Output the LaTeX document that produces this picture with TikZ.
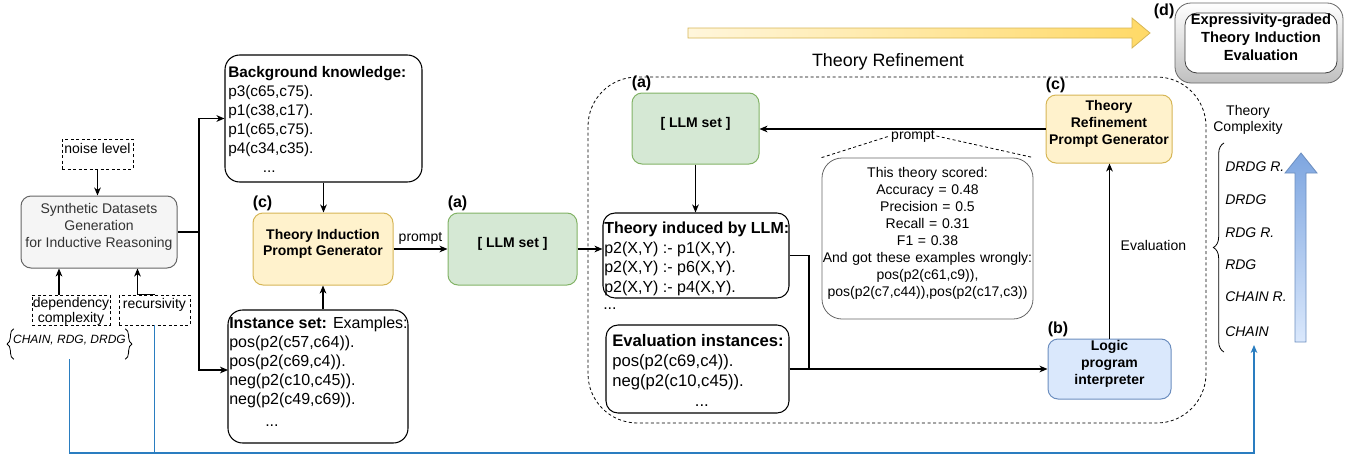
\documentclass[tikz,border=0pt]{standalone}
\usepackage{fontspec}
\setmainfont{Liberation Sans}
\usetikzlibrary{arrows.meta,fit,decorations.pathreplacing,calc,shadings}
\definecolor{yfill}{HTML}{FFF2CC}
\definecolor{ydraw}{HTML}{D6B656}
\definecolor{gfill}{HTML}{D5E8D4}
\definecolor{gdraw}{HTML}{82B366}
\definecolor{bfill}{HTML}{DAE8FC}
\definecolor{bdraw}{HTML}{6C8EBF}
\definecolor{sfill}{HTML}{F5F5F5}
\definecolor{sdraw}{HTML}{666666}
\definecolor{stext}{HTML}{333333}
\definecolor{blu}{HTML}{2A7DC0}
\definecolor{arrL}{HTML}{FFF6DC}
\definecolor{arrR}{HTML}{FFD966}
\definecolor{barT}{HTML}{7EA6E0}
\definecolor{barB}{HTML}{DAE8FC}
\newcommand\fsA{\fontsize{10.5pt}{12.5pt}\selectfont}
\newcommand\fsB{\bfseries\fontsize{10.5pt}{12.5pt}\selectfont}
\newcommand\fsBK{\fontsize{11.5pt}{14.25pt}\selectfont}
\newcommand\fsIS{\fontsize{12pt}{14.25pt}\selectfont}
\newcommand\fsTI{\fontsize{12pt}{14.6pt}\selectfont}
\newcommand\fsEV{\fontsize{12.5pt}{15pt}\selectfont}
\newcommand\fsSm{\fontsize{9pt}{11pt}\selectfont}
\newcommand\fsTR{\fontsize{13.4pt}{16pt}\selectfont}
\newcommand\fsEX{\bfseries\fontsize{11pt}{13.5pt}\selectfont}
\newcommand\fsLB{\bfseries\fontsize{12pt}{14pt}\selectfont}
\newcommand\fsSC{\fontsize{10.5pt}{12.75pt}\selectfont}
\begin{document}
\begin{tikzpicture}[x=0.75pt,y=-0.75pt,
  bx/.style={draw=black, line width=0.8pt, rounded corners=11pt, inner sep=0pt},
  yb/.style={draw=ydraw, fill=yfill, line width=0.75pt, rounded corners=7.5pt, inner sep=0pt, align=center, font=\fsB},
  gb/.style={draw=gdraw, fill=gfill, line width=0.75pt, rounded corners=7.5pt, inner sep=0pt, align=center, font=\fsB},
  bb/.style={draw=bdraw, fill=bfill, line width=0.75pt, rounded corners=7.5pt, inner sep=0pt, align=center, font=\fsB},
  dbox/.style={draw=black, dash pattern=on 2.25pt off 1.9pt, line width=0.6pt, inner sep=0pt, align=center, font=\fsA},
  arr/.style={-{Stealth[length=6pt,width=5pt,inset=1.8pt]}, line width=0.8pt},
  ln/.style={line width=0.8pt},
  lbl/.style={font=\fsLB, inner sep=0pt},
  txt/.style={inner sep=0pt, align=left, anchor=north west},
  brc/.style={decorate, line width=0.6pt},
  bl/.style={draw=blu, line width=0.8pt},
  ital/.style={font=\itshape\fsA, anchor=west, inner sep=0pt}
]
\useasboundingbox (0,0) rectangle (1354,457);

% dashed loop region
\node[fit={(588,77)(1206,423)}, inner sep=0pt, draw=black, dash pattern=on 2.25pt off 1.9pt, line width=0.6pt, rounded corners=37pt] (loop) {};

% top gradient arrow
\shadedraw[left color=arrL, right color=arrR, draw=ydraw, line width=0.6pt]
  (688,28) -- (1132,28) -- (1132,18) -- (1150,33) -- (1132,48) -- (1132,38) -- (688,38) -- cycle;
\node[font=\fsTR, inner sep=0pt] (trlab) at (888,62) {Theory Refinement};

% left part
\node[dbox, fit={(62,139)(133,169)}] (noise) {noise level};
\node[draw=sdraw, fill=sfill, text=stext, line width=0.75pt, rounded corners=7.5pt, inner sep=0pt, align=center, font=\fsA, fit={(21,196)(177,268)}] (synth) {Synthetic Datasets\\Generation\\for Inductive Reasoning};
\node[dbox, fit={(32,295)(110,325)}] (dep) {};
\node[font=\fsA, align=center, inner sep=0pt, text depth=0pt] (deptext) at (dep.center) {dependency\\[-1pt]complexity};
\node[dbox, fit={(119,295)(190,325)}] (rec) {recursivity};
\node[fit={(6,329)(133,359)}, inner sep=0pt, font=\itshape\fsSm] (grp) {CHAIN, RDG, DRDG};
\draw[brc, decoration={brace, amplitude=5pt}] ([xshift=6pt]grp.south west) -- ([xshift=6pt]grp.north west);
\draw[brc, decoration={brace, amplitude=5pt}] ([xshift=-6pt]grp.north east) -- ([xshift=-6pt]grp.south east);

\draw[arr] (noise.south) -- (noise.south |- synth.north);
\draw[arr] ([xshift=-9pt]dep.north) -- ([xshift=-9pt]dep.north |- synth.south);
\draw[arr] (rec.north) -- ++(-17,0) coordinate (rk) -- (rk |- synth.south);

% background knowledge and instance set
\node[bx, fit={(225,55)(422,182)}] (bk) {};
\node[txt, font=\fsBK] (bktext) at (228,66) {\textbf{Background knowledge:}\\p3(c65,c75).\\p1(c38,c17).\\p1(c65,c75).\\p4(c34,c35).\\\hspace*{26pt}...};
\node[bx, fit={(228,310)(408,443)}] (inst) {};
\node[txt, font=\fsIS] (insttext) at (229,317) {\textbf{Instance set:} Examples:\\pos(p2(c57,c64)).\\pos(p2(c69,c4)).\\neg(p2(c10,c45)).\\neg(p2(c49,c69)).\\[2pt]\hspace*{27pt}...};

\coordinate (sp) at (199,232);
\coordinate (instin) at (228,370);
\draw[ln] (synth.east) -- (sp);
\draw[arr] (sp) |- (bk.west);
\draw[arr] (sp) |- (instin);

% theory induction prompt generator and LLM
\node[yb, fit={(253,213)(393,285)}] (tipg) {Theory Induction\\Prompt Generator};
\node[lbl, anchor=south west] (lc1) at ([yshift=1pt]tipg.north west) {(c)};
\node[gb, fit={(448,213)(577,285)}] (llm1) {[ LLM set ]};
\node[lbl, anchor=south west] (la1) at ([yshift=1pt]llm1.north west) {(a)};
\draw[arr] (bk.south) -- (bk.south |- tipg.north);
\draw[arr] (tipg.south |- inst.north) -- (tipg.south);
\draw[arr] (tipg.east) -- node[above, font=\fsA, inner sep=3pt] (p1) {prompt} (llm1.west);

% theory induced, evaluation instances
\node[bx, rounded corners=9pt, fit={(603,213)(789,298)}] (ti) {};
\node[txt, font=\fsTI] (titext) at (604,222) {\textbf{Theory induced by LLM:}\\p2(X,Y) :- p1(X,Y).\\p2(X,Y) :- p6(X,Y).\\p2(X,Y) :- p4(X,Y).};
\node[font=\fsTI, anchor=base west, inner sep=0pt] (tidots) at (603,309) {...};
\node[bx, rounded corners=9pt, fit={(606,325)(789,413)}] (ev) {};
\node[txt, font=\fsEV] (evtext) at (612,334) {\textbf{Evaluation instances:}\\pos(p2(c69,c4)).\\neg(p2(c10,c45)).\\\hspace*{62pt}...};
\draw[arr] (llm1.east) -- (llm1.east -| ti.west);

% LLM (refinement), TRPG, scores, logic interpreter
\node[gb, fit={(632,93)(759,164)}] (llm2) {[ LLM set ]};
\node[lbl, anchor=south west] (la2) at ([yshift=1pt]llm2.north west) {(a)};
\node[yb, fit={(1046,95)(1172,163)}] (trpg) {Theory\\Refinement\\Prompt Generator};
\node[lbl, anchor=south west] (lc2) at ([yshift=1pt]trpg.north west) {(c)};
\node[bb, fit={(1048,339)(1171,399)}] (logic) {Logic\\program\\interpreter};
\node[lbl, anchor=south west] (lb) at ([yshift=1pt]logic.north west) {(b)};
\node[draw=sdraw, line width=0.6pt, rounded corners=15pt, fit={(822,158)(1033,319)}, inner sep=0pt, align=center, font=\fsSC] (scores) {This theory scored:\\Accuracy = 0.48\\Precision = 0.5\\Recall = 0.31\\F1 = 0.38\\And got these examples wrongly:\\pos(p2(c61,c9)),\\pos(p2(c7,c44)),pos(p2(c17,c3))};
\node[font=\fsA, inner sep=1pt] (p2) at (913,136) {prompt};
\draw[dash pattern=on 2.25pt off 1.9pt, line width=0.6pt] (scores.north west) -- (p2.west);
\draw[dash pattern=on 2.25pt off 1.9pt, line width=0.6pt] (p2.east) -- (scores.north east);

\coordinate (mg) at (809,369);
\draw[arr] (llm2.south) -- (llm2.south |- ti.north);
\draw[arr] (trpg.west) -- (llm2.east |- trpg.west);
\draw[ln] (ti.east) -| (mg);
\draw[arr] (ev.east) -- (logic.west);
\draw[arr] (logic.north) -- node[pos=0.53, right, font=\fsA, inner sep=8pt] (evlab) {Evaluation} (logic.north |- trpg.south);

% expressivity box
\node[fit={(1175,3)(1343,83)}, inner sep=0pt, rounded corners=12pt, draw=sdraw, line width=0.6pt, top color=white, bottom color=black!25] (exprout) {};
\node[fit={(1185,13)(1337,73)}, inner sep=0pt, rounded corners=9pt, draw=black!75, line width=0.6pt, fill=white, align=center, font=\fsEX] (expr) {Expressivity-graded\\Theory Induction\\Evaluation};
\node[lbl, anchor=north east] (ld) at ([yshift=-1pt]exprout.north west) {(d)};

% theory complexity
\node[font=\fsA, align=center, inner sep=0pt] (tc) at (1248,120) {Theory\\Complexity};
\draw[brc, decoration={brace, amplitude=8pt}] (1224,352) -- (1224,143);
\node[ital] (c6) at (1225,167) {DRDG R.};
\node[ital] (c5) at (1225,200) {DRDG};
\node[ital] (c4) at (1225,233) {RDG R.};
\node[ital] (c3) at (1225,265) {RDG};
\node[ital] (c2) at (1225,297) {CHAIN R.};
\node[ital] (c1) at (1225,332) {CHAIN};
\shadedraw[top color=barT, bottom color=barB, draw=bdraw, line width=0.6pt]
  (1295,342) -- (1295,173) -- (1285,173) -- (1301,153) -- (1317,173) -- (1306,173) -- (1306,342) -- cycle;

% blue feedback lines
\coordinate (bl3) at (1254,453);
\coordinate (cxend) at (1254,345);
\draw[bl, -{Stealth[length=6pt,width=5pt,inset=1.8pt]}] (grp.south) |- (bl3) -- (cxend);
\draw[bl] (rec.south) -- (rec.south |- bl3);
\end{tikzpicture}
\end{document}
